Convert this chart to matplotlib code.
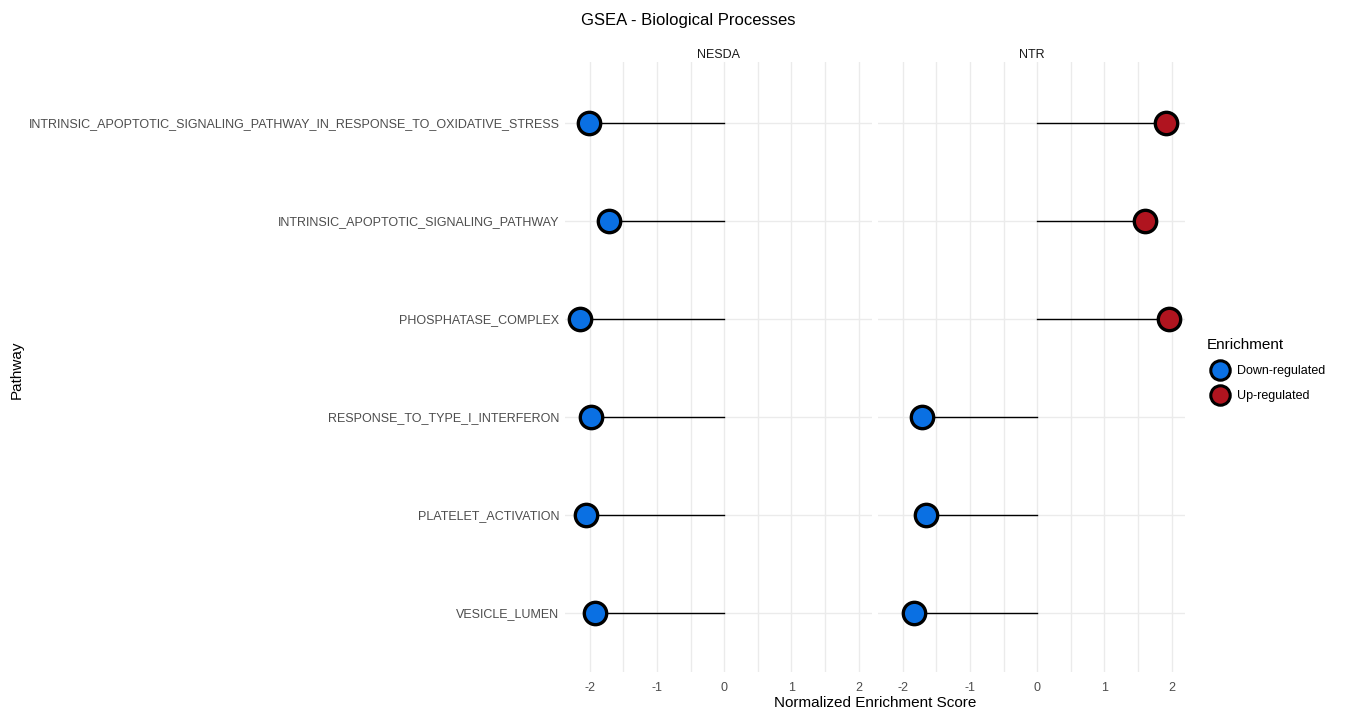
import matplotlib.pyplot as plt
from matplotlib.lines import Line2D

plt.rcParams['font.family'] = ['Liberation Sans', 'DejaVu Sans']

# data, top row first
pathways = ['INTRINSIC_APOPTOTIC_SIGNALING_PATHWAY_IN_RESPONSE_TO_OXIDATIVE_STRESS',
            'INTRINSIC_APOPTOTIC_SIGNALING_PATHWAY',
            'PHOSPHATASE_COMPLEX',
            'RESPONSE_TO_TYPE_I_INTERFERON',
            'PLATELET_ACTIVATION',
            'VESICLE_LUMEN']
cohorts = ['NESDA', 'NTR']
nes_nesda = [-2.01, -1.71, -2.14, -1.98, -2.05, -1.92]
nes_ntr = [1.92, 1.60, 1.96, -1.71, -1.66, -1.84]
xticks = [-2, -1, 0, 1, 2]

col_down = '#0a70e3'
col_up = '#b0141f'
grid_col = '#ebebeb'
txt_col = '#4d4d4d'

fig = plt.figure(figsize=(13.46, 7.1), dpi=100)
W, H = 1346, 710
top, bot = 62, 672
axes = [fig.add_axes([565 / W, 1 - bot / H, 307 / W, (bot - top) / H]),
        fig.add_axes([878 / W, 1 - bot / H, 307 / W, (bot - top) / H])]

n = len(pathways)
ypos = list(range(n, 0, -1))

for ax, name, vals in zip(axes, cohorts, [nes_nesda, nes_ntr]):
    ax.set_xlim(-2.37, 2.2)
    ax.set_ylim(0.398, n + 0.622)
    for v in [-2, -1.5, -1, -0.5, 0, 0.5, 1, 1.5, 2]:
        ax.axvline(v, color=grid_col, lw=1, zorder=0)
    for y in ypos:
        ax.axhline(y, color=grid_col, lw=1, zorder=0)
    for y, v in zip(ypos, vals):
        ax.plot([0, v], [y, y], color='black', lw=1, zorder=2)
        c = col_up if v > 0 else col_down
        ax.scatter(v, y, s=260, color=c, edgecolor='black', linewidth=2.4, zorder=3)
    for s in ax.spines.values():
        s.set_visible(False)
    ax.set_xticks(xticks)
    ax.set_xticklabels([str(t) for t in xticks])
    ax.tick_params(axis='x', length=0, labelsize=9, labelcolor=txt_col, pad=7)
    ax.tick_params(axis='y', length=0, labelsize=9, labelcolor=txt_col, pad=4)
    ax.set_title(name, fontsize=9, color='#1a1a1a', pad=3)
    ax.set_yticks(ypos)
    if ax is axes[0]:
        ax.set_yticklabels(pathways)
    else:
        ax.set_yticklabels([])

fig.text(688 / W, 1 - 21 / H, 'GSEA - Biological Processes', ha='center', va='center', fontsize=12)
fig.text(875 / W, 1 - 703 / H, 'Normalized Enrichment Score', ha='center', va='center', fontsize=11)
fig.text(17 / W, 1 - 370 / H, 'Pathway', ha='center', va='center', rotation=90, fontsize=11)

handles = [Line2D([], [], marker='o', ls='', markersize=14, markerfacecolor=col_down,
                  markeredgecolor='black', markeredgewidth=2.2, label='Down-regulated'),
           Line2D([], [], marker='o', ls='', markersize=14, markerfacecolor=col_up,
                  markeredgecolor='black', markeredgewidth=2.2, label='Up-regulated')]
leg = fig.legend(handles=handles, title='Enrichment', loc='upper left',
                 bbox_to_anchor=(1202 / W, 1 - 333 / H), frameon=False, fontsize=9,
                 title_fontsize=11, handletextpad=0.4, labelspacing=1.05, borderaxespad=0)
leg._legend_box.align = 'left'

fig.savefig('out.png', dpi=100)
